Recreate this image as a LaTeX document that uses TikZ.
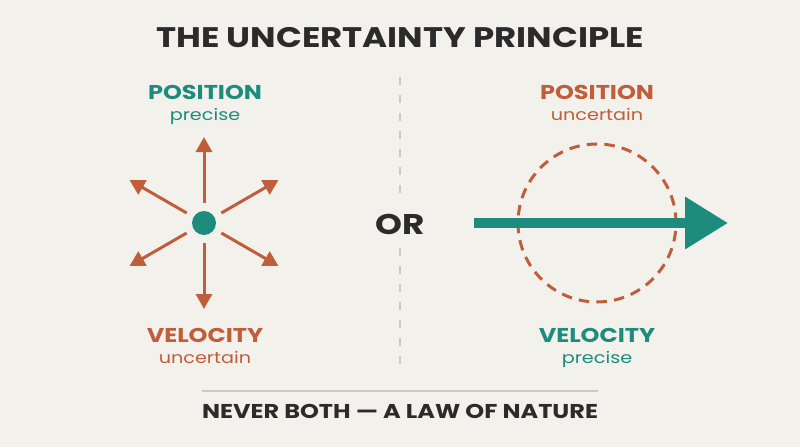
\documentclass[tikz,border=0pt]{standalone}
\usepackage{fontspec}
\setmainfont{Poppins}[FakeStretch=1.2]
\usetikzlibrary{arrows.meta}
\definecolor{bgc}{HTML}{F2F1EC}
\definecolor{teal}{HTML}{1E8C7D}
\definecolor{rust}{HTML}{C05D3A}
\definecolor{ink}{HTML}{2B2B2B}
\definecolor{rule}{HTML}{C9C9C5}
\tikzset{
  heading/.style={font=\bfseries\fontsize{28.3}{30}\selectfont, text=ink, anchor=base, inner sep=0pt},
  label/.style={font=\bfseries\fontsize{20}{22}\selectfont, anchor=base, inner sep=0pt},
  sublabel/.style={font=\fontsize{16}{18}\selectfont, anchor=base, inner sep=0pt},
  ray/.style={rust, line width=3pt, -{Triangle[length=15pt,width=16pt]}},
}
\begin{document}
\begin{tikzpicture}[x=1pt,y=-1pt]
\fill[bgc] (0,0) rectangle (800,447);
\useasboundingbox (0,0) rectangle (800,447);
% title
\node[heading] (title) at (400,47) {THE UNCERTAINTY PRINCIPLE};
% left side
\node[label, text=teal] (lpos) at (205,99) {POSITION};
\node[sublabel, text=teal] (lprec) at (205,120) {precise};
\node[circle, fill=teal, minimum size=24pt, inner sep=0pt] (dot) at (204,223) {};
\foreach \a/\n in {90/up,30/ur,150/ul,210/dl,270/dn,330/dr}{
  \coordinate (a\n) at ([shift={(\a:20pt)}]dot.center);
  \coordinate (b\n) at ([shift={(\a:86pt)}]dot.center);
}
\draw[ray] (aup) -- (bup);
\draw[ray] (aur) -- (bur);
\draw[ray] (aul) -- (bul);
\draw[ray] (adl) -- (bdl);
\draw[ray] (adn) -- (bdn);
\draw[ray] (adr) -- (bdr);
\node[label, text=rust] (lvel) at (205,342) {VELOCITY};
\node[sublabel, text=rust] (lunc) at (205,363) {uncertain};
% divider
\node[font=\bfseries\fontsize{28.5}{30}\selectfont, text=ink, anchor=base, inner sep=0pt] (or) at (400,234) {OR};
\coordinate (d1) at (400,77);
\coordinate (d2) at (400,200);
\coordinate (d3) at (400,248);
\coordinate (d4) at (400,368);
\draw[rule, line width=2pt, dash pattern=on 8pt off 10pt] (d1) -- (d2);
\draw[rule, line width=2pt, dash pattern=on 8pt off 10pt] (d3) -- (d4);
% right side
\node[label, text=rust] (rpos) at (597,99) {POSITION};
\node[sublabel, text=rust] (runc) at (597,120) {uncertain};
\node[circle, draw=rust, line width=3pt, dash pattern=on 10.5pt off 7.2pt, minimum size=158pt, inner sep=0pt] (cloud) at (597,223) {};
\coordinate (ms) at (474,223);
\coordinate (me) at (728,223);
\draw[teal, line width=10pt, -{Triangle[length=43pt,width=50pt]}] (ms) -- (me);
\node[label, text=teal] (rvel) at (597,342) {VELOCITY};
\node[sublabel, text=teal] (rprec) at (597,363) {precise};
% footer
\coordinate (f1) at (202,391);
\coordinate (f2) at (598,391);
\draw[rule, line width=2pt] (f1) -- (f2);
\node[font=\bfseries\fontsize{20}{22}\selectfont, text=ink, anchor=base, inner sep=0pt] (foot) at (400,418) {NEVER BOTH — A LAW OF NATURE};
\end{tikzpicture}
\end{document}
